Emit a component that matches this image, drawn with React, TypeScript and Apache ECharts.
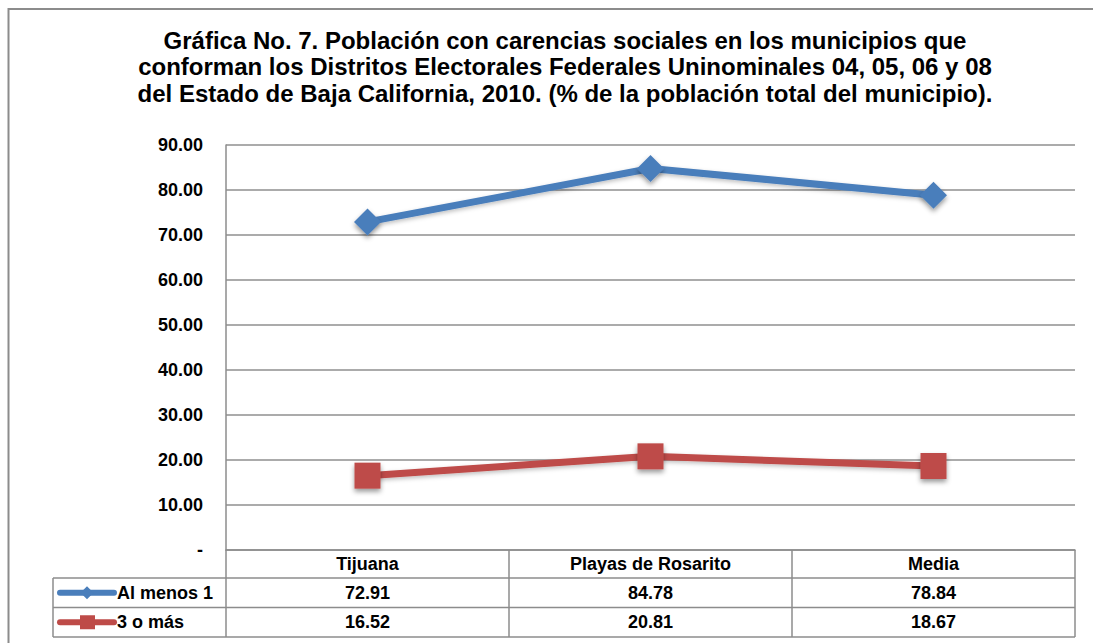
import React, { useEffect, useRef } from "react";
import * as echarts from "echarts";

const categories = ["Tijuana", "Playas de Rosarito", "Media"];
const seriesNames = ["Al menos 1", "3 o más"];
const alMenos1 = [72.91, 84.78, 78.84];
const tresOMas = [16.52, 20.81, 18.67];
const seriesColors = ["#4A7EBB", "#BE4B48"];
const titleText =
  "Gráfica No. 7. Población con carencias sociales en los municipios que\nconforman los Distritos Electorales Federales Uninominales 04, 05, 06 y 08\ndel Estado de Baja California, 2010. (% de la población total del municipio).";

const W = 1093;
const H = 643;
const GL = 226;
const GR = 1075;
const GT = 145;
const GB = 550;
const ROW_H = 29.5;
const LEG_X = 53;
const FONT = "Liberation Sans, Arial, sans-serif";
const BORDER = "#8c8c8c";
const LBL = 18;

const DIAMOND = "path://M0,-1L1,0L0,1L-1,0Z";

export default function App() {
  const ref = useRef<HTMLDivElement>(null);
  useEffect(() => {
    if (!ref.current) return;
    const chart = echarts.init(ref.current, null, { renderer: "svg" });
    const values = [alMenos1, tresOMas];
    const symbols = [DIAMOND, "rect"];
    const symbolSizes = [27, 26];
    const colW = (GR - GL) / categories.length;
    const rowTop = [GB + 28, GB + 28 + ROW_H];
    const g: any[] = [];
    g.push({
      type: "rect",
      shape: { x: 8.5, y: 9, width: 1200, height: 800 },
      style: { fill: "none", stroke: BORDER, lineWidth: 2 },
      silent: true,
    });
    const line = (x1: number, y1: number, x2: number, y2: number) =>
      g.push({
        type: "line",
        shape: { x1, y1, x2, y2 },
        style: { stroke: BORDER, lineWidth: 1.5 },
        z: 10,
      });
    line(LEG_X, rowTop[0], GR, rowTop[0]);
    line(LEG_X, rowTop[1], GR, rowTop[1]);
    line(LEG_X, rowTop[1] + ROW_H, GR, rowTop[1] + ROW_H);
    line(LEG_X, rowTop[0], LEG_X, rowTop[1] + ROW_H);
    for (let i = 0; i <= categories.length; i++) {
      const x = GL + i * colW;
      line(x, GB, x, rowTop[1] + ROW_H);
    }
    values.forEach((vals, r) => {
      const cy = rowTop[r] + ROW_H / 2;
      g.push({
        type: "line",
        shape: { x1: 60, y1: cy, x2: 114, y2: cy },
        style: { stroke: seriesColors[r], lineWidth: 6, lineCap: "round" },
        z: 11,
      });
      if (r === 0) {
        g.push({
          type: "polygon",
          shape: { points: [[87, cy - 6.5], [93.5, cy], [87, cy + 6.5], [80.5, cy]] },
          style: { fill: seriesColors[r] },
          z: 12,
        });
      } else {
        g.push({
          type: "rect",
          shape: { x: 80, y: cy - 7, width: 15, height: 14 },
          style: { fill: seriesColors[r] },
          z: 12,
        });
      }
      g.push({
        type: "text",
        x: 117,
        y: cy,
        style: {
          text: seriesNames[r],
          font: `bold ${LBL}px ${FONT}`,
          fill: "#000",
          textVerticalAlign: "middle",
          textAlign: "left",
        },
        z: 12,
      });
      vals.forEach((v, c) => {
        g.push({
          type: "text",
          x: GL + (c + 0.5) * colW,
          y: cy,
          style: {
            text: v.toFixed(2),
            font: `bold ${LBL}px ${FONT}`,
            fill: "#000",
            textAlign: "center",
            textVerticalAlign: "middle",
          },
          z: 12,
        });
      });
    });
    g.push({
      type: "text",
      x: 565,
      y: 27,
      style: {
        text: titleText,
        font: `bold 24px ${FONT}`,
        lineHeight: 26.5,
        fill: "#000",
        textAlign: "center",
        textVerticalAlign: "top",
      },
    });

    chart.setOption({
      animation: false,
      backgroundColor: "#fff",
      grid: { left: GL, right: W - GR, top: GT, bottom: H - GB, containLabel: false },
      xAxis: {
        type: "category",
        data: categories,
        boundaryGap: true,
        axisLine: { show: true, lineStyle: { color: BORDER, width: 1.5 } },
        axisTick: { show: false },
        axisLabel: {
          color: "#000",
          fontWeight: "bold",
          fontSize: LBL,
          fontFamily: FONT,
          margin: 5,
          interval: 0,
        },
        splitLine: { show: false },
      },
      yAxis: {
        type: "value",
        min: 0,
        max: 90,
        interval: 10,
        axisLine: { show: true, lineStyle: { color: BORDER, width: 1.5 } },
        axisTick: { show: false },
        splitLine: { show: true, lineStyle: { color: "#8f8f8f", width: 1.5 } },
        axisLabel: {
          color: "#000",
          fontWeight: "bold",
          fontSize: LBL,
          fontFamily: FONT,
          margin: 23,
          formatter: (v: number) => (v === 0 ? "-" : v.toFixed(2)),
        },
      },
      series: values.map((vals, i) => ({
        type: "line",
        name: seriesNames[i],
        data: vals,
        symbol: symbols[i],
        symbolSize: symbolSizes[i],
        showAllSymbol: true,
        lineStyle: {
          color: seriesColors[i],
          width: 7,
          shadowColor: "rgba(0,0,0,0.25)",
          shadowBlur: 4,
          shadowOffsetY: 2,
        },
        itemStyle: {
          color: seriesColors[i],
          borderWidth: 0,
          shadowColor: "rgba(0,0,0,0.4)",
          shadowBlur: 5,
          shadowOffsetY: 3,
        },
        z: 5,
      })),
      graphic: g,
    });
    return () => chart.dispose();
  }, []);
  return (
    <div
      ref={ref}
      style={{ position: "fixed", left: 0, top: 0, width: W, height: H }}
    />
  );
}
